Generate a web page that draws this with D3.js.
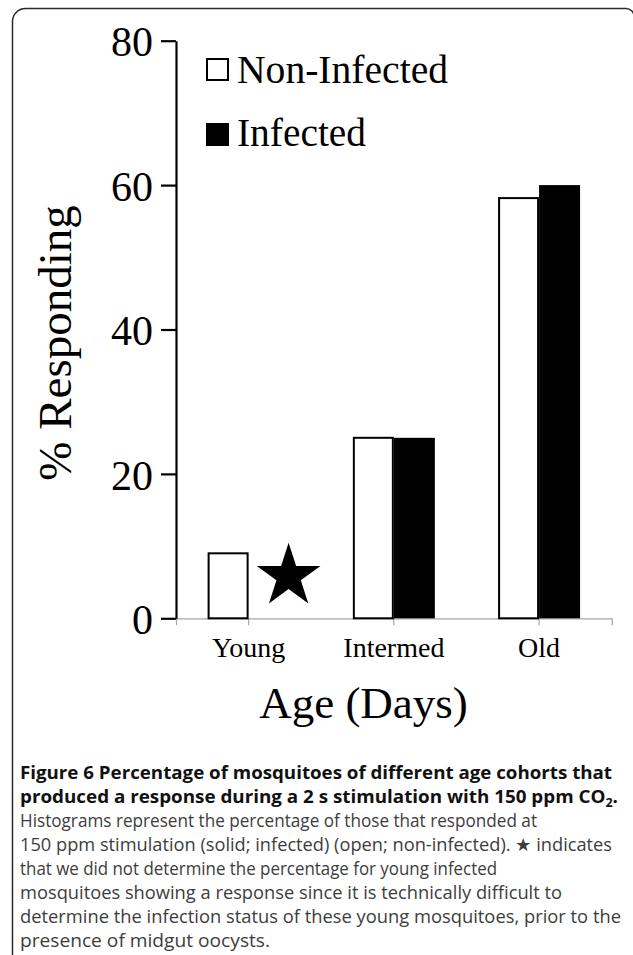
<!DOCTYPE html>
<html>
<head>
<meta charset="utf-8">
<script src="https://cdn.jsdelivr.net/npm/d3@7"></script>
<style>
  html, body { margin: 0; padding: 0; background: #fff; }
  svg { display: block; }
</style>
</head>
<body>
<svg id="chart" width="633" height="955"></svg>
<script>
// ---- data ----
const categories = ["Young", "Intermed", "Old"];
const seriesNames = ["Non-Infected", "Infected"];
const nonInfected = [9, 25, 58.2];
const infected = [null, 25, 60];   // null = not determined (star)
const yTicks = [0, 20, 40, 60, 80];
const yLabel = "% Responding";
const xLabel = "Age (Days)";
const captionLines = [
  {text: "Figure 6 Percentage of mosquitoes of different age cohorts that", bold: true, len: 592},
  {text: "produced a response during a 2 s stimulation with 150 ppm CO", bold: true, sub: "2", tail: ".", len: 598},
  {text: "Histograms represent the percentage of those that responded at", len: 517},
  {text: "150 ppm stimulation (solid; infected) (open; non-infected). \u2605 indicates", len: 592},
  {text: "that we did not determine the percentage for young infected", len: 477},
  {text: "mosquitoes showing a response since it is technically difficult to", len: 542},
  {text: "determine the infection status of these young mosquitoes, prior to the", len: 601},
  {text: "presence of midgut oocysts.", len: 250}
];

const svg = d3.select("#chart");
const serif = "'Liberation Serif', 'Times New Roman', serif";

// frame
svg.append("path")
  .attr("d", "M12.5,955 V22 A13,13 0 0 1 25.5,8.5 H626 A8,8 0 0 1 634,16.5 V955")
  .attr("fill", "none").attr("stroke", "#2a2a2a").attr("stroke-width", 1.5);

// scales
const plot = {left: 176, right: 611.7, top: 40.7, bottom: 618.3};
const y = d3.scaleLinear().domain([0, 80]).range([plot.bottom, plot.top]);
const x0 = d3.scaleBand().domain(categories).range([plot.left, plot.right]).padding(0);
const barW = 41;
const x1 = d3.scaleBand().domain(seriesNames).range([-barW, barW]).padding(0);

// x axis (gray)
const xAxis = svg.append("g")
  .attr("transform", `translate(0,${plot.bottom})`)
  .call(d3.axisBottom(x0).tickSize(7).tickSizeOuter(7).tickPadding(12));
xAxis.selectAll("path, line").attr("stroke", "#a6a6a6").attr("stroke-width", 1.2);
xAxis.selectAll("text")
  .attr("font-family", serif).attr("font-size", 28).attr("fill", "#000");

// bars
const groups = svg.append("g").selectAll("g")
  .data(categories)
  .join("g")
  .attr("transform", d => `translate(${x0(d) + x0.bandwidth() / 2},0)`);

groups.append("rect")
  .attr("x", x1("Non-Infected") + 1)
  .attr("width", x1.bandwidth() - 2)
  .attr("y", (d, i) => y(nonInfected[i]))
  .attr("height", (d, i) => y(0) - y(nonInfected[i]))
  .attr("fill", "#fff").attr("stroke", "#000").attr("stroke-width", 2);

groups.filter((d, i) => infected[i] != null).append("rect")
  .attr("x", x1("Infected"))
  .attr("width", x1.bandwidth())
  .attr("y", d => y(infected[categories.indexOf(d)]))
  .attr("height", d => y(0) - y(infected[categories.indexOf(d)]))
  .attr("fill", "#000");

// star for undetermined value
const starR = 33.5;
groups.filter((d, i) => infected[i] == null).append("path")
  .attr("d", d3.symbol(d3.symbolStar, starR * starR / 0.8908130915292852)())
  .attr("transform", `translate(${x1("Infected") + barW - 1},${y(0) - 42})`)
  .attr("fill", "#000");

// y axis (black)
const yAxis = svg.append("g")
  .attr("transform", `translate(${plot.left},0)`)
  .call(d3.axisLeft(y).tickValues(yTicks).tickSize(15).tickSizeOuter(0).tickPadding(8));
yAxis.selectAll("path, line").attr("stroke", "#000").attr("stroke-width", 2.2);
yAxis.selectAll("text")
  .attr("font-family", serif).attr("font-size", 42).attr("fill", "#000").attr("dy", "0.36em");

// y axis title
svg.append("text")
  .attr("transform", `translate(71,343) rotate(-90)`)
  .attr("text-anchor", "middle")
  .attr("font-family", serif).attr("font-size", 47)
  .text(yLabel);

// x axis title
svg.append("text")
  .attr("x", 363.5).attr("y", 718)
  .attr("text-anchor", "middle")
  .attr("font-family", serif).attr("font-size", 45)
  .text(xLabel);

// legend
const legend = svg.append("g");
const legItems = [{name: seriesNames[0], fill: "#fff", y: 59, ty: 83},
                  {name: seriesNames[1], fill: "#000", y: 124, ty: 146}];
legend.selectAll("rect").data(legItems).join("rect")
  .attr("x", 207).attr("y", d => d.y).attr("width", 21).attr("height", 21)
  .attr("fill", d => d.fill).attr("stroke", "#000").attr("stroke-width", 2);
legend.selectAll("text").data(legItems).join("text")
  .attr("x", 237).attr("y", d => d.ty)
  .attr("font-family", serif).attr("font-size", 39.5)
  .attr("textLength", (d, i) => [211, 129][i]).attr("lengthAdjust", "spacingAndGlyphs")
  .text(d => d.name);

// caption
const cap = svg.append("g");
captionLines.forEach((l, i) => {
  const t = cap.append("text")
    .attr("x", 20).attr("y", 779 + i * 24)
    .attr("font-family", "'Open Sans', 'Noto Sans', sans-serif")
    .attr("font-size", 18)
    .attr("font-weight", l.bold ? 700 : 400)
    .attr("fill", l.bold ? "#111" : "#3d3d3d")
    .attr("textLength", l.len)
    .attr("lengthAdjust", "spacingAndGlyphs");
  t.append("tspan").text(l.text);
  if (l.sub) {
    t.append("tspan").attr("font-size", 12).attr("dy", 4).text(l.sub);
    t.append("tspan").attr("dy", -4).text(l.tail);
  }
});
</script>
</body>
</html>
